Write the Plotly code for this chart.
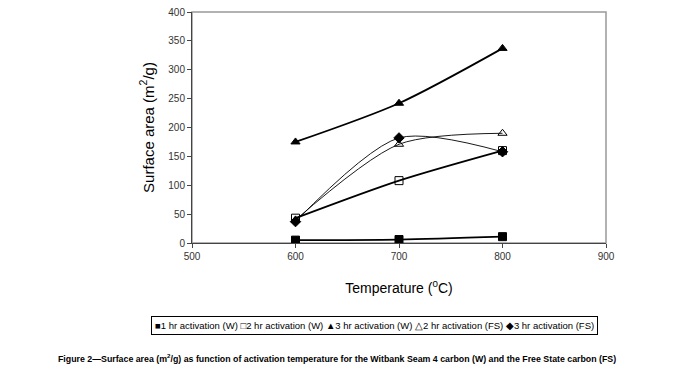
import plotly.graph_objects as go

temps = [600, 700, 800]
w_1hr = [5, 6, 11]
w_2hr = [43, 108, 160]
w_3hr = [175, 242, 337]
fs_2hr = [40, 171, 190]
fs_3hr = [37, 182, 158]

series = [
    ("1 hr activation (W)", w_1hr, "square", 1.8, "■"),
    ("2 hr activation (W)", w_2hr, "square-open", 1.8, "□"),
    ("3 hr activation (W)", w_3hr, "triangle-up", 1.8, "▲"),
    ("2 hr activation (FS)", fs_2hr, "triangle-up-open", 0.9, "△"),
    ("3 hr activation (FS)", fs_3hr, "diamond", 0.9, "◆"),
]

fig = go.Figure()
for name, vals, sym, lw, glyph in series:
    fig.add_trace(go.Scatter(
        x=temps, y=vals, name=name, mode="lines+markers",
        line=dict(color="black", width=lw, shape="spline", smoothing=0.8),
        marker=dict(symbol=sym, size=8, color="black", line=dict(color="black", width=1)),
        showlegend=False,
    ))

legend_text = " ".join(f"{g}{n}" for n, _, _, _, g in series)

axis_font = dict(family="Liberation Sans, Arial", size=10, color="#333")
fig.update_layout(
    width=674, height=375,
    margin=dict(l=184, r=76, t=4, b=140),
    paper_bgcolor="white", plot_bgcolor="white",
    xaxis=dict(range=[500, 900], dtick=100, ticks="outside", ticklen=4, tickcolor="#444",
               showline=True, linecolor="#444", showgrid=False, zeroline=False,
               automargin=False, tickfont=axis_font, ticklabeloverflow="allow",
               title=dict(text="Temperature (<sup>0</sup>C)", font=dict(family="Arial", size=14, color="black"), standoff=22)),
    yaxis=dict(range=[0, 400], dtick=50, ticks="outside", ticklen=4, tickcolor="#444",
               showline=True, linecolor="#444", showgrid=False, zeroline=False,
               automargin=False, tickfont=axis_font, ticklabeloverflow="allow",
               title=dict(text="Surface area (m<sup>2</sup>/g)", font=dict(family="Arial", size=15, color="black"), standoff=10)),
    shapes=[dict(type="rect", xref="paper", yref="paper", x0=0, y0=0, x1=1, y1=1,
                 line=dict(color="#999", width=1.5), layer="below")],
    annotations=[
        dict(text=legend_text, xref="paper", yref="paper", x=0.442, xanchor="center",
             y=-0.355, yanchor="middle", showarrow=False, bordercolor="black", borderwidth=1,
             borderpad=3, font=dict(family="Liberation Sans, Arial", size=9.5, color="black")),
        dict(text="<b>Figure 2—Surface area (m<sup>2</sup>/g) as function of activation temperature for the Witbank Seam 4 carbon (W) and the Free State carbon (FS)</b>",
             xref="paper", yref="paper", x=0.350, xanchor="center", y=-0.498, yanchor="middle",
             showarrow=False, font=dict(family="Liberation Sans, Arial", size=8.8, color="black")),
    ],
)

fig.write_html("out.html")
